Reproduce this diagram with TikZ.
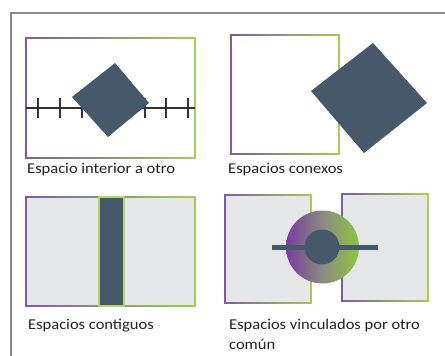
\documentclass[tikz,border=0pt]{standalone}
\usepackage{fontspec}
\setmainfont{Carlito}
\usepackage{graphicx}
\definecolor{pur}{HTML}{7E5BA6}
\definecolor{grn}{HTML}{A6CE4E}
\definecolor{ringpur}{HTML}{7A3C9E}
\definecolor{ringmid}{HTML}{8A8A82}
\definecolor{ringgrn}{HTML}{8FC63E}
\definecolor{slate}{HTML}{46596A}
\definecolor{boxgray}{HTML}{E6E7E9}
\definecolor{framegray}{HTML}{8A8A8A}
\definecolor{txt}{HTML}{222222}
\newcommand\stretchtxt[1]{\scalebox{1.1}[1]{#1}}
\tikzset{
  lbl/.style={anchor=base west, inner sep=0pt, text=txt, font=\fontsize{15}{20}\selectfont, align=left},
  tickline/.style={draw=black!80, line width=1.1pt},
}
% gradient-outlined rectangle: x1 y1 x2 y2 fillcolor
\newcommand\gradbox[5]{%
  \fill[#5] (#1,#2) rectangle (#3,#4);
  \path[left color=pur, right color=grn, even odd rule]
    (#1-0.9,#2-0.9) rectangle (#3+0.9,#4+0.9)
    (#1+0.9,#2+0.9) rectangle (#3-0.9,#4-0.9);
}
\begin{document}
\begin{tikzpicture}[x=1pt,y=-1pt]
\useasboundingbox (0,0) rectangle (445,356);
\fill[white] (0,0) rectangle (445,356);
% outer frame (top and left edges)
\draw[framegray, line width=1.5pt] (445,13) -- (11,13) -- (11,356);

% ---------- Panel 1: espacio interior a otro
\gradbox{26}{38}{195}{158}{white}
\draw[tickline] (26,108) -- (195,108);
\foreach \tx in {38,60,82,145,166,188}
  \draw[tickline] (\tx,98) -- (\tx,118);
\fill[slate] (72,97) -- (115,63) -- (149,103) -- (108,137) -- cycle;
\node[lbl] (t1) at (27,173.5) {\stretchtxt{Espacio interior a otro}};

% ---------- Panel 2: espacios conexos
\gradbox{231}{35}{339}{154}{white}
\fill[slate] (311,91) -- (373,43) -- (427,103) -- (364,153) -- cycle;
\node[lbl] (t2) at (228,173.5) {\stretchtxt{Espacios conexos}};

% ---------- Panel 3: espacios contiguos
\gradbox{26}{197}{195}{306}{boxgray}
\fill[slate] (99,197) rectangle (124,306);
\draw[grn!85!white, line width=1.5pt] (99,197) rectangle (124,306);
\node[lbl] (t3) at (28,329) {\stretchtxt{Espacios contiguos}};

% ---------- Panel 4: espacios vinculados por otro común
\gradbox{225}{195}{311}{303}{boxgray}
\gradbox{342}{194}{428}{301}{boxgray}
\shade[left color=ringpur, right color=ringgrn, middle color=ringmid] (322.5,247) circle (36.5);
\draw[slate, line width=5pt] (272,247) -- (378,247);
\fill[slate] (322,247) circle (17.5);
\node[lbl] (t4) at (229,349) {\stretchtxt{Espacios vinculados por otro}\\\stretchtxt{común}};
\end{tikzpicture}
\end{document}
